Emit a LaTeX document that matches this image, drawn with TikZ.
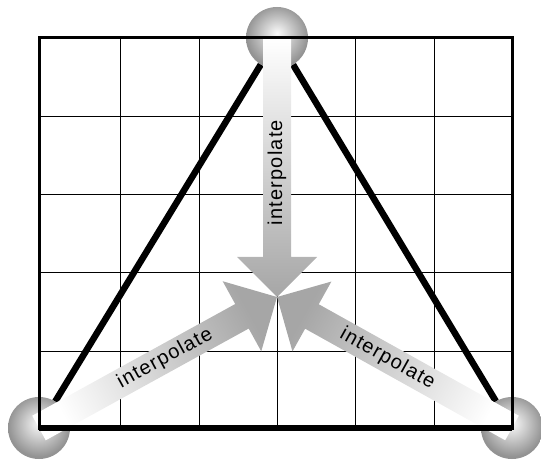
\documentclass[tikz,border=0pt]{standalone}
\usepackage{fontspec}
\usepackage{tikz}
\usetikzlibrary{calc}
\newfontfamily\lblfont{Liberation Sans}[LetterSpace=6]
\pgfdeclareradialshading{sphereshade}{\pgfpoint{0bp}{4bp}}{color(0bp)=(gray!5); color(5bp)=(gray!20); color(25bp)=(gray!85); color(50bp)=(gray!85)}
\tikzstyle{vertexball} = [circle, minimum size=62pt, inner sep=0pt, shade, shading=sphereshade]
\tikzstyle{side} = [line width=6.5pt]
\tikzstyle{gridline} = [line width=0.8pt]
\tikzstyle{border} = [line width=3pt]
\tikzstyle{fatarrow} = [shade, top color=white, bottom color=gray!70]
\tikzstyle{lbl} = [font=\lblfont\fontsize{20}{20}\selectfont, inner sep=0pt]

\begin{document}
\begin{tikzpicture}[x=1pt, y=1pt]
    \useasboundingbox (0,0) rectangle (541,464);
    \node (top) [vertexball] at (277,426) {};
    \node (left) [vertexball] at (39,36) {};
    \node (right) [vertexball] at (512,36) {};
    \coordinate (c) at (277,167);

    \draw [side] (top) -- (left);
    \draw [side] (top) -- (right);

    \foreach \gx in {120,199,277,355,434}
        \draw [gridline] (\gx,36) -- (\gx,426);
    \foreach \gy in {113,192,270,348}
        \draw [gridline] (39,\gy) -- (512,\gy);

    \foreach \v/\ang in {top/0, left/118.8, right/240.9} {
        \coordinate (hb) at ($(c)!40pt!(\v.center)$);
        \shade [fatarrow, shading angle=\ang]
            ($(\v.center)!14pt!90:(c)$) -- ($(hb)!14pt!-90:(\v.center)$)
            -- ($(hb)!40pt!-90:(\v.center)$) -- (c)
            -- ($(hb)!40pt!90:(\v.center)$) -- ($(hb)!14pt!90:(\v.center)$)
            -- ($(\v.center)!14pt!-90:(c)$) -- cycle;
    }

    \draw [border] (39,36) rectangle (512,426);
    \draw [side] (left.center) -- (right.center);

    \path (top.center) -- node [lbl, pos=.52, rotate=90] {interpolate} (c);
    \path (left.center) -- node [lbl, pos=.53, sloped] {interpolate} (c);
    \path (right.center) -- node [lbl, pos=.53, sloped] {interpolate} (c);
\end{tikzpicture}
\end{document}
